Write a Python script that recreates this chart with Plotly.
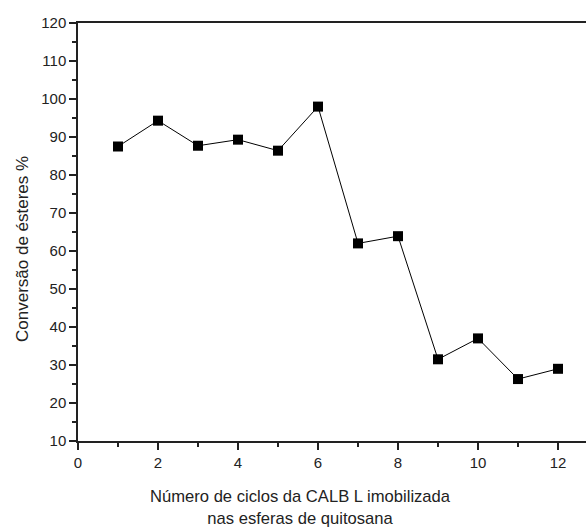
import plotly.graph_objects as go

# Reuse cycles of CALB L immobilized on chitosan beads
ciclos = [1, 2, 3, 4, 5, 6, 7, 8, 9, 10, 11, 12]
conversao = [87.5, 94.3, 87.7, 89.3, 86.4, 98.0, 62.0, 63.9, 31.5, 37.0, 26.3, 29.0]

x_ticks = [0, 2, 4, 6, 8, 10, 12]
y_ticks = [10, 20, 30, 40, 50, 60, 70, 80, 90, 100, 110, 120]

FONT = "Liberation Sans, Arial, sans-serif"

fig = go.Figure()
fig.add_trace(go.Scatter(
    x=ciclos, y=conversao, mode="lines+markers",
    line=dict(color="black", width=1),
    marker=dict(symbol="square", size=10, color="black"),
    showlegend=False,
))

axis_common = dict(
    showgrid=False, zeroline=False, showline=True, linecolor="#222", linewidth=1.5,
    ticks="outside", ticklen=7, tickwidth=1.5, tickcolor="#222",
    tickfont=dict(family=FONT, size=15, color="#222"),
)

fig.update_layout(
    width=586, height=528,
    margin=dict(l=78, r=0, t=23, b=87),
    plot_bgcolor="white", paper_bgcolor="white",
    xaxis=dict(range=[0, 12.7], tickvals=x_ticks, mirror=True,
               minor=dict(dtick=1, ticks="outside", ticklen=4, tickwidth=1.5, tickcolor="#222"),
               **axis_common),
    yaxis=dict(range=[10, 120], tickvals=y_ticks,
               minor=dict(dtick=5, ticks="outside", ticklen=4, tickwidth=1.5, tickcolor="#222"),
               **axis_common),
    annotations=[
        dict(text="Número de ciclos da CALB L imobilizada<br>nas esferas de quitosana",
             xref="paper", yref="paper", x=(300 - 78) / 508, y=-0.105,
             xanchor="center", yanchor="top", showarrow=False,
             font=dict(family=FONT, size=16.6, color="#222")),
        dict(text="Conversão de ésteres %", textangle=-90,
             xref="paper", yref="paper", x=-(78 - 22) / 508, y=(441 - 249) / 418,
             xanchor="center", yanchor="middle", showarrow=False,
             font=dict(family=FONT, size=17, color="#222")),
    ],
)

fig.write_html("out.html")
